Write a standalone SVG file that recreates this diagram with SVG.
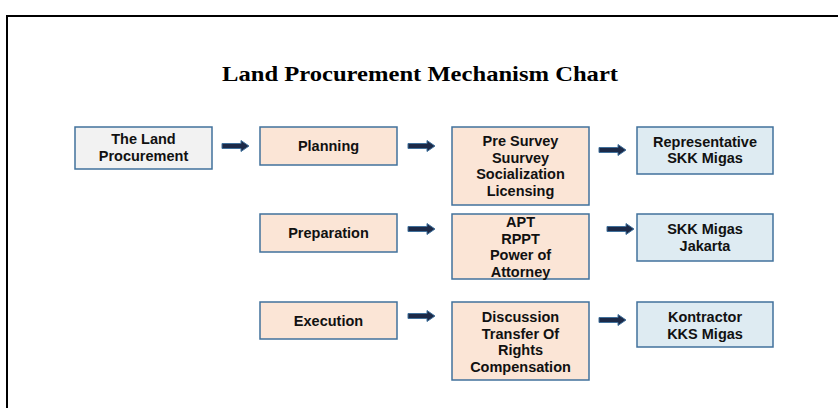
<svg xmlns="http://www.w3.org/2000/svg" width="838" height="408" viewBox="0 0 838 408">
<style>
.box{stroke:#41719c;stroke-width:1.5}
.grey{fill:#f2f2f2}
.peach{fill:#fbe5d6}
.blue{fill:#deebf2}
.t{font-family:"Liberation Sans",Arial,sans-serif;font-weight:bold;font-size:14.5px;fill:#111;text-anchor:middle}
.title{font-family:"Liberation Serif","Times New Roman",serif;font-weight:bold;font-size:22px;fill:#000;text-anchor:middle}
.arr{fill:#1c2a48;stroke:#41719c;stroke-width:1}
</style>
<defs>
<polygon id="arrow" class="arr" points="0,-2.5 19,-2.5 19,-5.5 27,0 19,5.5 19,2.5 0,2.5"/>
</defs>
<rect x="0" y="0" width="838" height="408" fill="#fff"/>
<path d="M7,408 V16 H838" fill="none" stroke="#000" stroke-width="2"/>
<text class="title" x="420" y="81" textLength="396" lengthAdjust="spacingAndGlyphs">Land Procurement Mechanism Chart</text>

<g id="connectors">
<use href="#arrow" x="222" y="146"/>
<use href="#arrow" x="408" y="146"/>
<use href="#arrow" x="599" y="150"/>
<use href="#arrow" x="408" y="229"/>
<use href="#arrow" x="607" y="229"/>
<use href="#arrow" x="408" y="316"/>
<use href="#arrow" x="599" y="320"/>
</g>

<g id="land">
<rect class="box grey" x="75" y="127" width="137" height="42"/>
<text class="t" x="143.5" y="144">The Land</text>
<text class="t" x="143.5" y="161">Procurement</text>
</g>
<g id="planning">
<rect class="box peach" x="260" y="127" width="137" height="38"/>
<text class="t" x="328.5" y="151">Planning</text>
</g>
<g id="planning-tasks">
<rect class="box peach" x="452" y="127" width="137" height="78"/>
<text class="t" x="520.5" y="146">Pre Survey</text>
<text class="t" x="520.5" y="162.5">Suurvey</text>
<text class="t" x="520.5" y="179">Socialization</text>
<text class="t" x="520.5" y="195.5">Licensing</text>
</g>
<g id="representative">
<rect class="box blue" x="637" y="127" width="136" height="47"/>
<text class="t" x="705" y="147">Representative</text>
<text class="t" x="705" y="163">SKK Migas</text>
</g>

<g id="preparation">
<rect class="box peach" x="260" y="214" width="137" height="38"/>
<text class="t" x="328.5" y="238">Preparation</text>
</g>
<g id="preparation-tasks">
<rect class="box peach" x="452" y="214" width="137" height="65"/>
<text class="t" x="520.5" y="227">APT</text>
<text class="t" x="520.5" y="243.5">RPPT</text>
<text class="t" x="520.5" y="260">Power of</text>
<text class="t" x="520.5" y="276.5">Attorney</text>
</g>
<g id="skk-jakarta">
<rect class="box blue" x="637" y="214" width="136" height="47"/>
<text class="t" x="705" y="234">SKK Migas</text>
<text class="t" x="705" y="250.5">Jakarta</text>
</g>

<g id="execution">
<rect class="box peach" x="260" y="302" width="137" height="37"/>
<text class="t" x="328.5" y="326">Execution</text>
</g>
<g id="execution-tasks">
<rect class="box peach" x="452" y="302" width="137" height="78"/>
<text class="t" x="520.5" y="322">Discussion</text>
<text class="t" x="520.5" y="338.5">Transfer Of</text>
<text class="t" x="520.5" y="355">Rights</text>
<text class="t" x="520.5" y="371.5">Compensation</text>
</g>
<g id="kontractor">
<rect class="box blue" x="637" y="302" width="136" height="45"/>
<text class="t" x="705" y="322">Kontractor</text>
<text class="t" x="705" y="338.5">KKS Migas</text>
</g>
</svg>
